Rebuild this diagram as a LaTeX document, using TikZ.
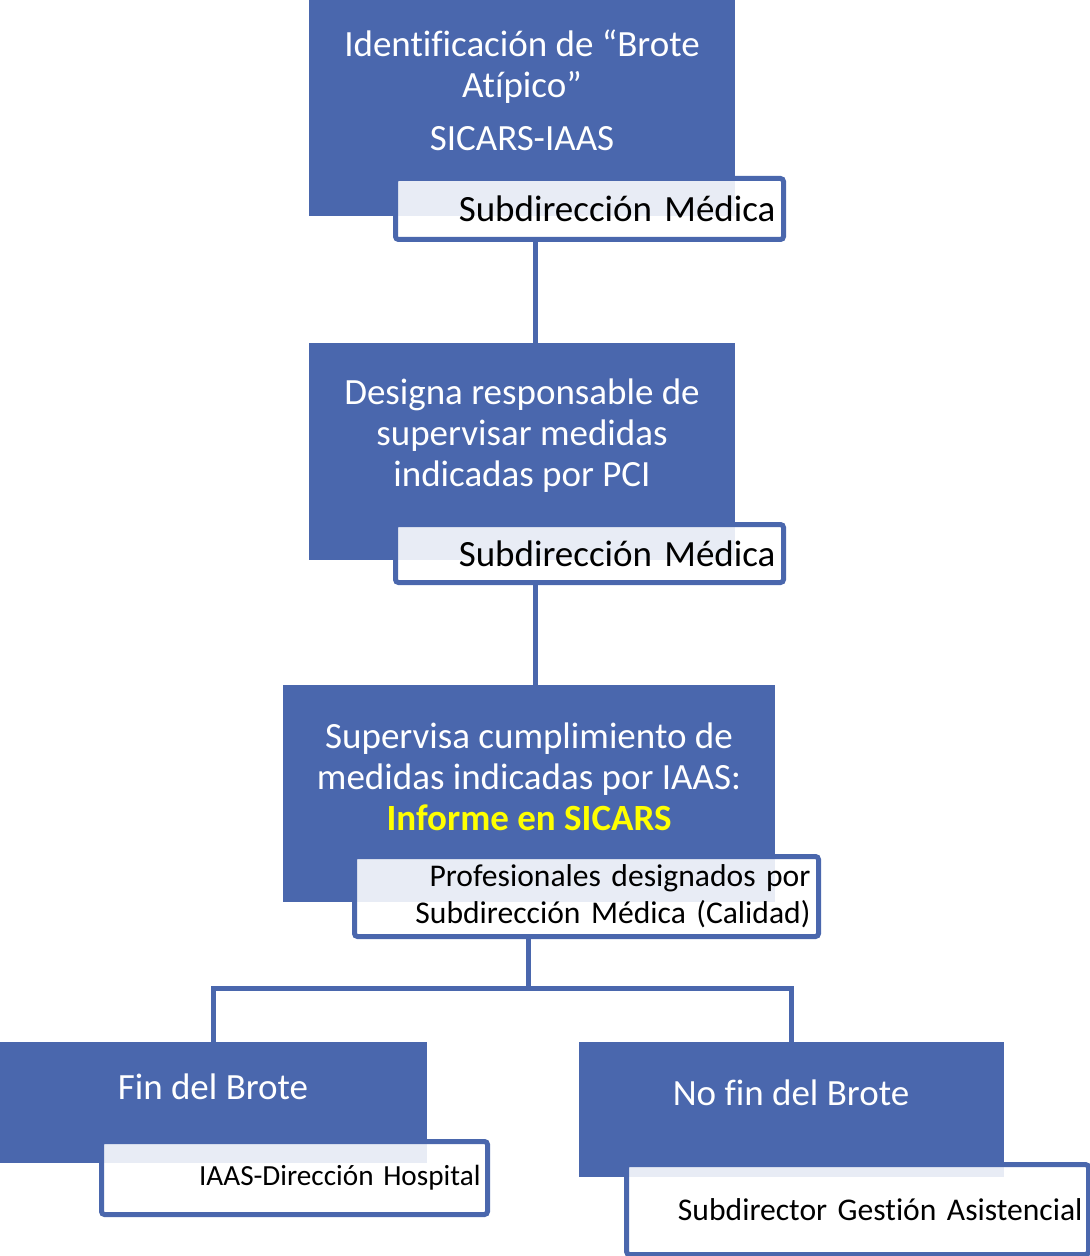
\documentclass[tikz,border=0pt]{standalone}
\usepackage{fontspec}
\setmainfont{Carlito}[RawFeature={-liga}]
\usetikzlibrary{positioning}
\definecolor{boxblue}{RGB}{74,103,173}
\definecolor{hiyellow}{RGB}{255,255,0}

\tikzset{
	card/.style={fill=boxblue, draw=none, inner sep=0pt, anchor=north west},
	cardtext/.style={text=white, align=center, inner sep=0pt,
		font=\fontsize{18.5}{20.5}\selectfont},
	tagbox/.style={draw=boxblue, line width=2.5pt, fill=white, fill opacity=0.88,
		text opacity=1, rounded corners=1.5pt, anchor=north west, align=right,
		inner xsep=4pt, inner ysep=0pt, text=black},
	conn/.style={draw=boxblue, line width=2.5pt}
}

\begin{document}
\begin{tikzpicture}[x=0.5pt,y=-0.5pt]
		
		\useasboundingbox (0,0) rectangle (1089,1256);
		
		% blue cards
		\node[card, minimum width=213pt, minimum height=108pt] (b1) at (309,0) {};
		\node[card, minimum width=213pt, minimum height=108.5pt] (b2) at (309,343) {};
		\node[card, minimum width=246pt, minimum height=108.5pt] (b3) at (283,685) {};
		\node[card, minimum width=213.5pt, minimum height=60.5pt] (b4) at (0,1042) {};
		\node[card, minimum width=212.5pt, minimum height=67.5pt] (b5) at (579,1042) {};
		
		% texts of the cards
		\node[cardtext] (t1) at (522,90) {Identificación de “Brote\\ Atípico”\\[6pt] SICARS-IAAS};
		\node[cardtext] (t2) at (522,436) {Designa responsable de\\ supervisar medidas\\ indicadas por PCI};
		\node[cardtext] (t3) at (529,777) {Supervisa cumplimiento de\\ medidas indicadas por IAAS:\\ \textcolor{hiyellow}{\bfseries Informe en SICARS}};
		\node[cardtext] (t4) at (213,1087) {Fin del Brote};
		\node[cardtext] (t5) at (791,1093) {No fin del Brote};
		
		% connectors
		\draw[conn] ([xshift=6.5pt]b2.north) -- ([xshift=6.5pt]b2.north |- 0,237);
		\draw[conn] ([xshift=3pt]b3.north) -- ([xshift=3pt]b3.north |- 0,580);
		\coordinate (split) at (528,988);
		\draw[conn] (528,934) -- (split);
		\draw[conn] (split) -| (b4.north);
		\draw[conn] (split) -| (b5.north);
		
		% responsible tags
		\node[tagbox, minimum width=194pt, minimum height=30.5pt, text width=186pt,
			font=\fontsize{18.5}{20.5}\selectfont] (l1) at (393,176) {Subdirección Médica};
		\node[tagbox, minimum width=194pt, minimum height=29pt, text width=186pt,
			font=\fontsize{18.5}{20.5}\selectfont] (l2) at (393,522) {Subdirección Médica};
		\node[tagbox, minimum width=232pt, minimum height=40pt, text width=224pt,
			font=\fontsize{15.8}{18.5}\selectfont] (l3) at (352,854) {Profesionales designados por\\ Subdirección Médica (Calidad)};
		\node[tagbox, minimum width=193pt, minimum height=36.5pt, text width=186pt,
			inner xsep=3.5pt, font=\fontsize{14.6}{17}\selectfont] (l4) at (99,1139) {IAAS-Dirección Hospital};
		\node[tagbox, minimum width=231pt, minimum height=45pt, text width=225pt,
			inner xsep=3pt, font=\fontsize{15.8}{18.5}\selectfont] (l5) at (624,1162) {Subdirector Gestión Asistencial};
		
\end{tikzpicture}
\end{document}
